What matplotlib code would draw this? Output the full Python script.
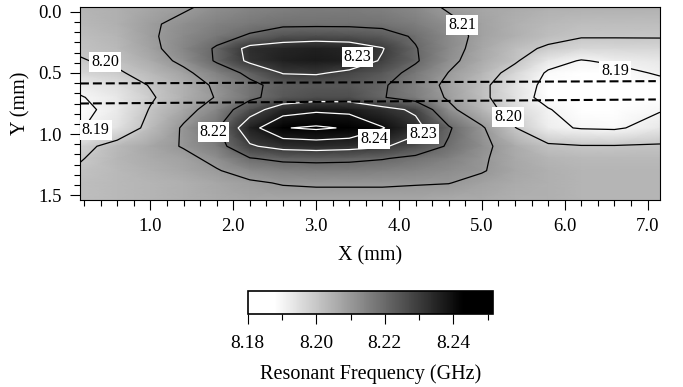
import numpy as np
import matplotlib.pyplot as plt
from matplotlib.colors import LinearSegmentedColormap
from matplotlib.ticker import MultipleLocator, FormatStrFormatter

plt.rcParams['font.family'] = ['Liberation Serif', 'DejaVu Serif']

# grid of the map (mm)
x_mm = [0.15, 0.6, 1.0, 1.4, 1.8, 2.2, 2.6, 3.0, 3.4, 3.8, 4.2, 4.6, 5.0, 5.4, 5.8, 6.2, 6.6, 7.15]
y_mm = [-0.04, 0.1, 0.2, 0.3, 0.4, 0.5, 0.6, 0.7, 0.8, 0.95, 1.1, 1.2, 1.3, 1.4, 1.54]

# resonant frequency (GHz), one row per y value
freq = [
    [8.204, 8.205, 8.207, 8.209, 8.212, 8.214, 8.215, 8.216, 8.216, 8.215, 8.213, 8.209, 8.207, 8.206, 8.205, 8.205, 8.205, 8.205],
    [8.203, 8.205, 8.209, 8.212, 8.215, 8.217, 8.2185, 8.2185, 8.2185, 8.218, 8.216, 8.212, 8.208, 8.205, 8.203, 8.202, 8.202, 8.202],
    [8.202, 8.204, 8.209, 8.213, 8.217, 8.221, 8.225, 8.226, 8.2255, 8.2235, 8.219, 8.213, 8.208, 8.205, 8.202, 8.2005, 8.2005, 8.2005],
    [8.201, 8.203, 8.208, 8.214, 8.221, 8.233, 8.235, 8.236, 8.235, 8.2305, 8.2205, 8.213, 8.207, 8.202, 8.199, 8.1965, 8.1965, 8.197],
    [8.1995, 8.2015, 8.206, 8.212, 8.221, 8.232, 8.236, 8.237, 8.236, 8.229, 8.221, 8.212, 8.206, 8.201, 8.193, 8.1895, 8.1915, 8.193],
    [8.197, 8.199, 8.203, 8.208, 8.215, 8.222, 8.2305, 8.231, 8.228, 8.224, 8.217, 8.2098, 8.204, 8.197, 8.189, 8.186, 8.187, 8.191],
    [8.192, 8.195, 8.2005, 8.205, 8.2115, 8.218, 8.223, 8.224, 8.224, 8.221, 8.215, 8.208, 8.202, 8.194, 8.188, 8.185, 8.185, 8.187],
    [8.1895, 8.193, 8.199, 8.205, 8.2105, 8.218, 8.224, 8.226, 8.226, 8.2205, 8.216, 8.209, 8.202, 8.194, 8.187, 8.184, 8.184, 8.186],
    [8.188, 8.1925, 8.2005, 8.207, 8.214, 8.226, 8.235, 8.238, 8.237, 8.233, 8.2285, 8.212, 8.204, 8.196, 8.1905, 8.186, 8.185, 8.1895],
    [8.1895, 8.194, 8.2025, 8.211, 8.219, 8.236, 8.2495, 8.2515, 8.249, 8.2405, 8.233, 8.221, 8.211, 8.2003, 8.1915, 8.1895, 8.189, 8.193],
    [8.1975, 8.203, 8.207, 8.2105, 8.216, 8.229, 8.233, 8.234, 8.233, 8.231, 8.226, 8.219, 8.212, 8.206, 8.2015, 8.2005, 8.2005, 8.201],
    [8.1995, 8.2035, 8.206, 8.208, 8.212, 8.2195, 8.222, 8.2225, 8.222, 8.2205, 8.218, 8.215, 8.211, 8.2065, 8.204, 8.203, 8.203, 8.203],
    [8.201, 8.203, 8.205, 8.207, 8.2095, 8.213, 8.215, 8.2155, 8.2155, 8.215, 8.214, 8.2125, 8.2105, 8.207, 8.205, 8.204, 8.204, 8.204],
    [8.202, 8.203, 8.204, 8.205, 8.207, 8.209, 8.2105, 8.211, 8.211, 8.211, 8.2105, 8.2102, 8.208, 8.206, 8.205, 8.204, 8.204, 8.204],
    [8.202, 8.203, 8.204, 8.205, 8.206, 8.207, 8.207, 8.207, 8.207, 8.207, 8.207, 8.206, 8.206, 8.205, 8.205, 8.204, 8.204, 8.204],
]

levels = [8.19, 8.20, 8.21, 8.22, 8.23, 8.24, 8.25]
line_colors = ['black', 'black', 'black', 'black', 'white', 'white', 'white']

# contour labels: text, x, y
label_text = ['8.20', '8.19', '8.22', '8.23', '8.21', '8.24', '8.23', '8.20', '8.19']
label_x = [0.45, 0.34, 1.76, 3.50, 4.76, 3.70, 4.29, 5.32, 6.61]
label_y = [0.41, 0.97, 0.985, 0.37, 0.11, 1.04, 1.00, 0.86, 0.48]

# dashed lines (strip edges)
dash_x = [0.15, 7.1]
dash_upper = [0.586, 0.567]
dash_lower = [0.75, 0.717]

fig = plt.figure(figsize=(6.83, 3.87), dpi=100)
ax = fig.add_axes([0.1171, 0.4832, 0.8492, 0.4987])

cmap = LinearSegmentedColormap.from_list(
    'wb', [(0, 'white'), (0.11, 'white'), (0.88, 'black'), (1, 'black')])
X, Y = np.meshgrid(x_mm, y_mm)
Z = np.array(freq)
mesh = ax.pcolormesh(X, Y, Z, shading='gouraud', cmap=cmap, vmin=8.18, vmax=8.2515)
ax.contour(X, Y, Z, levels=levels, colors=line_colors, linewidths=0.9)

for t, lx, ly in zip(label_text, label_x, label_y):
    ax.text(lx, ly, t, fontsize=11.5, ha='center', va='center',
            bbox=dict(boxstyle='square,pad=0.12', facecolor='white', edgecolor='none'))

ax.plot(dash_x, dash_upper, color='black', lw=1.5, linestyle=(0, (4.3, 1.9)))
ax.plot(dash_x, dash_lower, color='black', lw=1.5, linestyle=(0, (4.3, 1.9)))

ax.set_xlim(0.15, 7.15)
ax.set_ylim(1.54, -0.04)
ax.xaxis.set_major_locator(MultipleLocator(1.0))
ax.xaxis.set_minor_locator(MultipleLocator(0.2))
ax.yaxis.set_major_locator(MultipleLocator(0.5))
ax.yaxis.set_minor_locator(MultipleLocator(0.5 / 6))
ax.xaxis.set_major_formatter(FormatStrFormatter('%.1f'))
ax.yaxis.set_major_formatter(FormatStrFormatter('%.1f'))
ax.tick_params(which='major', direction='out', length=7, width=0.8, labelsize=13.5, pad=6)
ax.tick_params(which='minor', direction='out', length=4, width=0.8)
ax.set_xticks([1, 2, 3, 4, 5, 6, 7])
ax.set_xlabel('X (mm)', fontsize=14.5, labelpad=8)
ax.set_ylabel('Y (mm)', fontsize=14.5, labelpad=6)
for s in ax.spines.values():
    s.set_linewidth(0.8)

cax = fig.add_axes([0.3627, 0.1886, 0.3587, 0.0602])
cb = fig.colorbar(mesh, cax=cax, orientation='horizontal')
cb.set_ticks([8.18, 8.20, 8.22, 8.24])
cb.ax.xaxis.set_minor_locator(MultipleLocator(0.01))
cb.ax.xaxis.set_major_formatter(FormatStrFormatter('%.2f'))
cb.ax.tick_params(which='major', direction='out', length=7, width=0.8, labelsize=14, pad=8)
cb.ax.tick_params(which='minor', direction='out', length=4, width=0.8)
cb.outline.set_linewidth(1.2)
cb.set_label('Resonant Frequency (GHz)', fontsize=14.5, labelpad=9)

fig.savefig('out.png', dpi=100)
